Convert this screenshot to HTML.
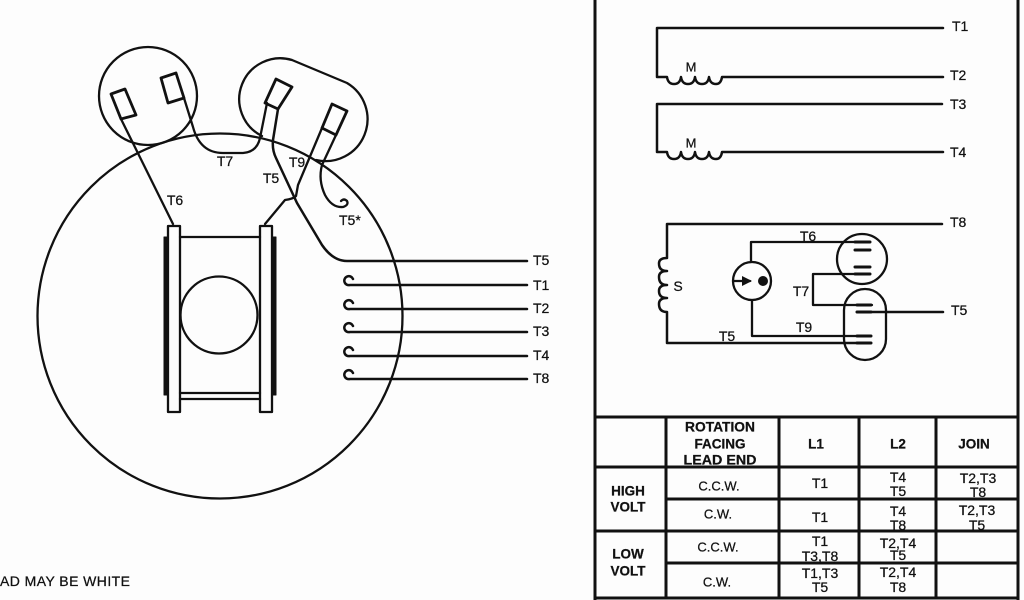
<!DOCTYPE html>
<html><head><meta charset="utf-8"><style>
html,body{margin:0;padding:0;background:#fdfdfd;width:1024px;height:600px;overflow:hidden}
svg{display:block;filter:blur(.35px)}
text{font-family:"Liberation Sans",sans-serif;font-size:14px;fill:#111;stroke:#111;stroke-width:.25px;text-anchor:start;dominant-baseline:central}
.c{text-anchor:middle}
.b{font-weight:bold;font-size:13.5px;text-anchor:middle}
.t{font-size:14px;text-anchor:middle}
</style></head><body>
<svg width="1024" height="600" viewBox="0 0 1024 600" xmlns="http://www.w3.org/2000/svg">
<rect width="1024" height="600" fill="#fdfdfd"/>
<g fill="none" stroke="#111" stroke-width="2.3" stroke-linecap="round" stroke-linejoin="round">
<!-- left motor -->
<circle cx="220" cy="316" r="182.5"/>
<circle cx="148" cy="96" r="49"/>
<path d="M292 60 A41 41 0 0 0 262 136 M292 60 L347 83 A42 42 0 0 1 316 160"/>
<g stroke-width="2.8">
<path d="M111 94 L125 89 L136 115 L121 119 Z"/>
<path d="M161 78 L176 73 L184 98 L168 103 Z"/>
<path d="M276 79 L292 87 L278 109 L265 103 Z"/>
<path d="M332 104 L347 111 L336 135 L322 128 Z"/>
</g>
<path d="M121 119 L173 224"/>
<path d="M184 98 L193 127 Q200 153 223 153 L243 153 Q257 152 260 138 L267 103"/>
<path d="M278 109 L273 140 Q272 150 276 158 L297 203 L322 245 Q333 261 347 261 L527 261" stroke-width="2.5"/>
<path d="M322 128 L298 185 L296 196 Q293 199 285 200 L265 224"/>
<path d="M336 135 L322 165 Q318 180 325 195 Q332 208 343 207 Q349 205 347 201 Q344 198 341 201"/>
<!-- frame -->
<rect x="168" y="226" width="12" height="186"/>
<rect x="260" y="226" width="12" height="186"/>
<path d="M180 237 L260 237 M180 393 L260 393 M180 399 L260 399"/>
<rect x="164" y="237" width="3" height="158" fill="#111" stroke-width="1"/>
<rect x="273" y="237" width="3" height="158" fill="#111" stroke-width="1"/>
<circle cx="219" cy="315" r="38.5"/>
<!-- leads -->
<g stroke-width="2.5">
<path d="M527 285 L350 285 A4.5 4.5 0 1 1 353 279"/>
<path d="M527 309 L350 309 A4.5 4.5 0 1 1 353 303"/>
<path d="M527 332 L350 332 A4.5 4.5 0 1 1 353 326"/>
<path d="M527 356 L350 356 A4.5 4.5 0 1 1 353 350"/>
<path d="M527 379 L350 379 A4.5 4.5 0 1 1 353 373"/>
</g>
<!-- right schematic top -->
<path d="M943 28 L657 28 L657 77 L667 77 Q668 84 674 84 Q680 84 681 77 Q682 84 688 84 Q694 84 695 77 Q696 84 702 84 Q708 84 709 77 Q710 84 716 84 Q721 84 722 77 L943 77" stroke-width="2.5"/>
<path d="M942 104 L657 104 L657 152 L667 152 Q668 159 674 159 Q680 159 681 152 Q682 159 688 159 Q694 159 695 152 Q696 159 702 159 Q708 159 709 152 Q710 159 716 159 Q721 159 722 152 L943 152" stroke-width="2.5"/>
<!-- right schematic bottom -->
<path d="M942 224 L667 224 L667 258 Q659 258 659 263.500 Q659 271 667 271 Q659 271 659 277 Q659 285 667 285 Q659 285 659 291 Q659 298 667 298 Q659 298 659 304 Q659 312 667 312 L667 343 L870 343" stroke-width="2.5"/>
<path d="M751 262 L751 242 L870 242" stroke-width="2.3"/>
<circle cx="752" cy="281" r="19"/>
<circle cx="862" cy="259" r="25"/>
<rect x="844" y="289" width="42" height="71" rx="21" ry="21"/>
<path d="M855 250 L870 250 M855 267 L870 267 M855 242 L870 242 M855 274 L870 274 M857 305 L871 305 M857 312 L871 312 M857 336 L871 336 M857 343 L871 343" stroke-width="3"/>
<path d="M870 274 L813 274 L813 305 L872 305" stroke-width="2.3"/>
<path d="M857 312 L943 312" stroke-width="2.5"/>
<path d="M752 300 L752 336 L870 336" stroke-width="2.3"/>
<path d="M734 281 L750 281"/>
<!-- table and frame -->
<g stroke-width="3" stroke-linecap="butt">
<path d="M595 0 L595 600 M1018 0 L1018 600"/>
<path d="M595 417 L1018 417 M595 467 L1018 467 M666 499 L1018 499 M595 531 L1018 531 M666 563 L1018 563 M595 598 L1018 598"/>
<path d="M666 417 L666 598 M779 417 L779 598 M859 417 L859 598 M936 417 L936 598"/>
</g>
</g>
<path d="M742 276 L752 281 L742 286 Z" fill="#111"/>
<circle cx="763" cy="281" r="5" fill="#111"/>

<text x="225" y="161" class="c">T7</text>
<text x="175" y="200" class="c">T6</text>
<text x="271" y="178" class="c">T5</text>
<text x="297" y="162" class="c">T9</text>
<text x="339" y="220">T5*</text>
<text x="533" y="260">T5</text>
<text x="533" y="285">T1</text>
<text x="533" y="308">T2</text>
<text x="533" y="331">T3</text>
<text x="533" y="355">T4</text>
<text x="533" y="378">T8</text>
<text x="0" y="581" textLength="130" lengthAdjust="spacing">AD MAY BE WHITE</text>

<text x="952" y="26">T1</text>
<text x="950" y="75">T2</text>
<text x="950" y="104">T3</text>
<text x="950" y="152">T4</text>
<text x="691" y="67" class="c" style="font-size:13px">M</text>
<text x="691" y="143" class="c" style="font-size:13px">M</text>
<text x="950" y="222">T8</text>
<text x="951" y="310">T5</text>
<text x="808" y="236" class="c">T6</text>
<text x="801" y="291" class="c">T7</text>
<text x="804" y="327" class="c">T9</text>
<text x="727" y="336" class="c">T5</text>
<text x="678" y="286" class="c">S</text>

<text x="720" y="427" class="b" textLength="70" lengthAdjust="spacingAndGlyphs">ROTATION</text>
<text x="720" y="444" class="b">FACING</text>
<text x="720" y="460" class="b" textLength="73" lengthAdjust="spacingAndGlyphs">LEAD END</text>
<text x="816" y="444" class="b">L1</text>
<text x="898" y="444" class="b">L2</text>
<text x="974" y="444" class="b">JOIN</text>
<text x="628" y="491" class="b">HIGH</text>
<text x="628" y="507" class="b">VOLT</text>
<text x="628" y="554" class="b">LOW</text>
<text x="628" y="571" class="b">VOLT</text>
<text x="719" y="486" class="t" style="font-size:13px">C.C.W.</text>
<text x="718" y="514" class="t" style="font-size:13px">C.W.</text>
<text x="718" y="547" class="t" style="font-size:13px">C.C.W.</text>
<text x="717" y="582" class="t" style="font-size:13px">C.W.</text>
<text x="820" y="483" class="t">T1</text>
<text x="820" y="517" class="t">T1</text>
<text x="820" y="541" class="t">T1</text>
<text x="820" y="556" class="t">T3,T8</text>
<text x="820" y="573" class="t">T1,T3</text>
<text x="820" y="587" class="t">T5</text>
<text x="898" y="477" class="t">T4</text>
<text x="898" y="491" class="t">T5</text>
<text x="898" y="511" class="t">T4</text>
<text x="898" y="525" class="t">T8</text>
<text x="898" y="543" class="t">T2,T4</text>
<text x="898" y="555" class="t">T5</text>
<text x="898" y="572" class="t">T2,T4</text>
<text x="898" y="587" class="t">T8</text>
<text x="978" y="478" class="t">T2,T3</text>
<text x="978" y="492" class="t">T8</text>
<text x="977" y="510" class="t">T2,T3</text>
<text x="977" y="525" class="t">T5</text>
</svg>
</body></html>
